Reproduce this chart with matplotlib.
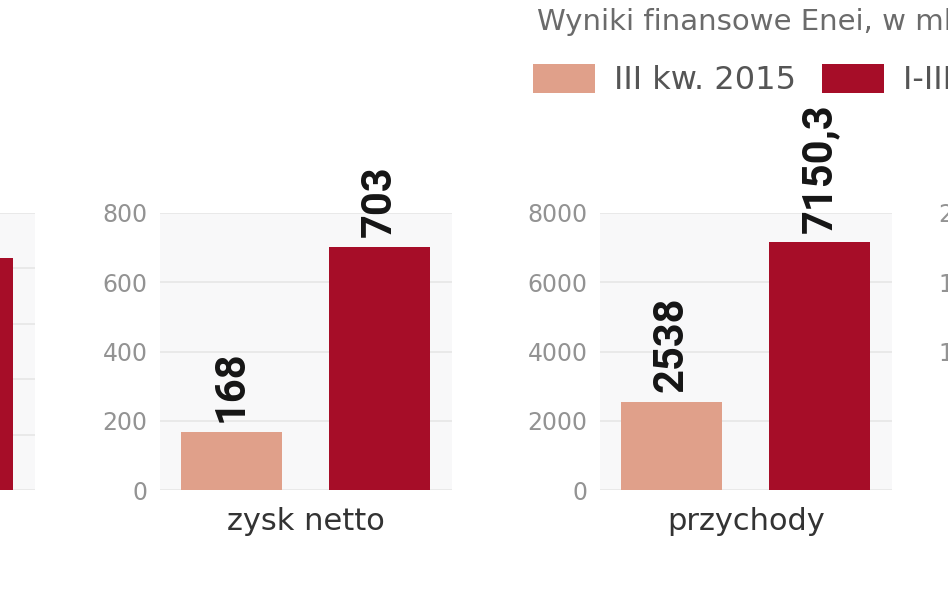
import matplotlib.pyplot as plt

# dane (mln zł)
panels = ["EBIT", "zysk netto", "przychody", "EBITDA"]
q3_2015 = [310, 168, 2538, 590]
q1_q3_2015 = [838, 703, 7150.3, 1720]
y_max = [1000, 800, 8000, 2000]
y_steps = [200, 200, 2000, 500]
series_labels = ["III kw. 2015", "I-III kw. 2015"]
title = "Wyniki finansowe Enei, w mln zł"

salmon = "#e0a08a"
darkred = "#a60d28"

W, H = 948, 593
fig = plt.figure(figsize=(W / 100, H / 100), dpi=100)
fig.patch.set_facecolor("white")

# panel left edges in pixels (outer ones are cut by the crop)
lefts = [-257, 160, 600, 1011]
ax_w, ax_top, ax_bot = 292, 213, 490

handles = []
for i, name in enumerate(panels):
    ax = fig.add_axes([lefts[i] / W, (H - ax_bot) / H, ax_w / W, (ax_bot - ax_top) / H])
    ax.set_facecolor("#f8f8f9")
    for s in ax.spines.values():
        s.set_visible(False)
    ax.set_ylim(0, y_max[i])
    ax.set_xlim(-0.48, 1.49)
    ticks = list(range(0, y_max[i] + 1, y_steps[i]))
    ax.set_yticks(ticks)
    ax.set_yticklabels([str(t) for t in ticks])
    ax.tick_params(axis="y", length=0, pad=9, labelsize=17, labelcolor="#939393")
    ax.set_xticks([])
    ax.grid(axis="y", color="#e6e6e6", linewidth=1.2)
    ax.set_axisbelow(True)

    vals = [q3_2015[i], q1_q3_2015[i]]
    bars = ax.bar([0, 1], vals, width=0.68, color=[salmon, darkred], zorder=3)
    if i == 1:
        handles = list(bars)
    for b, v in zip(bars, vals):
        txt = f"{v:g}".replace(".", ",")
        ax.annotate(txt, (b.get_x() + b.get_width() / 2, v), xytext=(0, 7),
                    textcoords="offset points", rotation=90, ha="center", va="bottom",
                    family=["Roboto", "DejaVu Sans"], fontweight="bold", fontsize=30,
                    color="#151515", annotation_clip=False)
    ax.text(0.5, -0.112, name, transform=ax.transAxes, ha="center", va="center",
            fontsize=22, color="#333333")

fig.text(537 / W, 1 - 22 / H, title, ha="left", va="center", fontsize=21, color="#6b6b6b")

fig.legend(handles, series_labels, loc="upper left", bbox_to_anchor=(533 / W, 1 - 64 / H),
           ncol=2, frameon=False, fontsize=23, labelcolor="#555555",
           handlelength=1.95, handleheight=1.0, handletextpad=0.6, columnspacing=0.8,
           borderpad=0, borderaxespad=0)

fig.savefig("out.png", dpi=100)
